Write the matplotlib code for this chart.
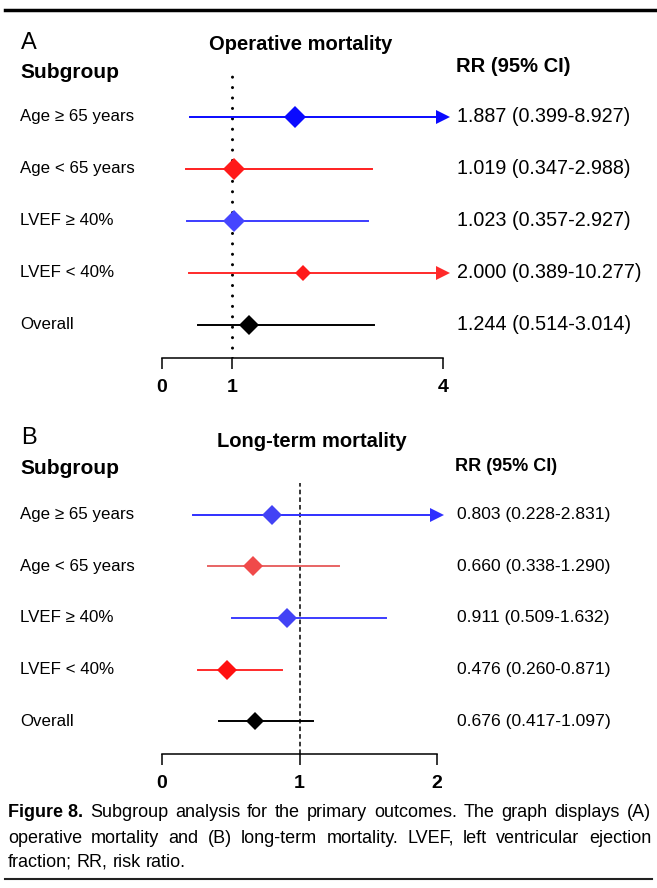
import matplotlib
matplotlib.use('Agg')
import matplotlib.pyplot as plt
from matplotlib import font_manager
from matplotlib.transforms import blended_transform_factory

# Data
subgroups = ['Age \u2265 65 years', 'Age < 65 years', 'LVEF \u2265 40%', 'LVEF < 40%', 'Overall']

op_rr = [1.887, 1.019, 1.023, 2.000, 1.244]
op_lo = [0.399, 0.347, 0.357, 0.389, 0.514]
op_hi = [8.927, 2.988, 2.927, 10.277, 3.014]

lt_rr = [0.803, 0.660, 0.911, 0.476, 0.676]
lt_lo = [0.228, 0.338, 0.509, 0.260, 0.417]
lt_hi = [2.831, 1.290, 1.632, 0.871, 1.097]

op_ticks = [0, 1, 4]
lt_ticks = [0, 1, 2]

# colors (line, diamond) per row
op_line = ['#0a0aff', '#ff2020', '#3c3cff', '#ff2a2a', '#000000']
op_mark = ['#0a0aff', '#ff1a1a', '#4646ff', '#ff1a1a', '#000000']
lt_line = ['#3030ff', '#e86464', '#3c3cff', '#ff2a2a', '#000000']
lt_mark = ['#4242f5', '#f04a4a', '#4242f5', '#ff1010', '#000000']

names = {f.name for f in font_manager.fontManager.ttflist}
base = ['Liberation Sans', 'DejaVu Sans']
narrow = ['Liberation Sans Narrow', 'Liberation Sans', 'DejaVu Sans'] if 'Liberation Sans Narrow' in names else base
plt.rcParams['font.family'] = base

W, H = 657, 888
fig = plt.figure(figsize=(W / 100, H / 100), dpi=100)


def px(x, y):
    return x / W, 1 - y / H


def forest(ax_rect, rr, lo, hi, xmax, ticks, lines, marks, ylim, ref_style, ms, val_size):
    ax = fig.add_axes(ax_rect)
    n = len(rr)
    ys = [n - i for i in range(n)]
    ax.set_xlim(0, xmax)
    ax.set_ylim(*ylim)
    if ref_style == 'dot':
        ax.axvline(1, color='black', lw=2.2, ls=(0, (0.01, 3.4)), dash_capstyle='round', zorder=1)
    else:
        ax.axvline(1, color='black', lw=1.1, ls=(0, (3, 2)), zorder=1)
    for i in range(n):
        y = ys[i]
        if hi[i] > xmax:
            ax.plot([lo[i], xmax], [y, y], color=lines[i], lw=1.4, clip_on=False, zorder=2)
            ax.plot([xmax], [y], marker='>', color=lines[i], ms=10, mew=0, clip_on=False, zorder=2)
        else:
            ax.plot([lo[i], hi[i]], [y, y], color=lines[i], lw=1.4, clip_on=False, zorder=2)
        ax.plot([rr[i]], [y], marker='D', color=marks[i], ms=ms[i], mew=0, clip_on=False, zorder=3)
    for s in ['left', 'right', 'top']:
        ax.spines[s].set_visible(False)
    ax.spines['bottom'].set_linewidth(1.1)
    ax.set_yticks([])
    ax.set_xticks(ticks)
    ax.set_xticklabels([str(t) for t in ticks], fontsize=14, fontweight='bold')
    ax.tick_params(axis='x', direction='out', length=8, width=1.1, pad=7)
    tr = blended_transform_factory(fig.transFigure, ax.transData)
    for i in range(n):
        ax.text(20 / W, ys[i], subgroups[i], transform=tr, fontsize=12.2, va='center', ha='left')
        ax.text(457 / W, ys[i], '%.3f (%.3f-%.3f)' % (rr[i], lo[i], hi[i]), transform=tr,
                fontsize=val_size, va='center', ha='left')
    return ax


# Panel A
forest([162 / W, 1 - 358 / H, 281 / W, 284 / H], op_rr, op_lo, op_hi, 4, op_ticks,
       op_line, op_mark, (0.365, 5.82), 'dot', [11, 11, 11, 8.5, 10.5], 14.2)
fig.text(*px(21, 43), 'A', fontsize=17, va='center', ha='left')
fig.text(*px(301, 44), 'Operative mortality', fontsize=14.5, fontweight='bold', va='center', ha='center')
fig.text(*px(20, 72), 'Subgroup', fontsize=15, fontweight='bold', va='center', ha='left')
fig.text(*px(456, 66), 'RR (95% CI)', fontsize=14.5, fontweight='bold', va='center', ha='left')

# Panel B
forest([162 / W, 1 - 754 / H, 275 / W, 271 / H], lt_rr, lt_lo, lt_hi, 2, lt_ticks,
       lt_line, lt_mark, (0.36, 5.62), 'dash', [10, 10, 10, 10, 9.5], 12.6)
fig.text(*px(21, 438), 'B', fontsize=17, va='center', ha='left')
fig.text(*px(312, 441), 'Long-term mortality', fontsize=14.5, fontweight='bold', va='center', ha='center')
fig.text(*px(20, 468), 'Subgroup', fontsize=15, fontweight='bold', va='center', ha='left')
fig.text(*px(455, 466), 'RR (95% CI)', fontsize=13, fontweight='bold', va='center', ha='left')

# rules
fig.add_artist(plt.Line2D([5 / W, 1], [1 - 10 / H, 1 - 10 / H], color='black', lw=2.5))
fig.add_artist(plt.Line2D([5 / W, 652 / W], [1 - 879 / H, 1 - 879 / H], color='#222222', lw=1.5))

# caption, first two lines justified to the column width
cap_lines = [
    ['Figure 8.'] + 'Subgroup analysis for the primary outcomes. The graph displays (A)'.split(' '),
    'operative mortality and (B) long-term mortality. LVEF, left ventricular ejection'.split(' '),
    'fraction; RR, risk ratio.'.split(' '),
]
cap_y = [812, 838, 862]
cap_left, cap_right = 8, 651
renderer = fig.canvas.get_renderer()
sp = fig.text(0, 0, 'a a', fontsize=13, family=narrow)
nsp = fig.text(0, 0, 'aa', fontsize=13, family=narrow)
space = sp.get_window_extent(renderer).width - nsp.get_window_extent(renderer).width
sp.remove()
nsp.remove()
for k, (words, y) in enumerate(zip(cap_lines, cap_y)):
    arts = []
    for j, w in enumerate(words):
        bold = (k == 0 and j == 0)
        arts.append(fig.text(0, 1 - y / H, w, fontsize=13, family=narrow,
                             fontweight='bold' if bold else 'normal', va='center', ha='left'))
    widths = [a.get_window_extent(renderer).width for a in arts]
    if k < 2:
        gap = (cap_right - cap_left - sum(widths)) / (len(words) - 1)
    else:
        gap = space
    x = cap_left
    for a, w in zip(arts, widths):
        a.set_x(x / W)
        x += w + gap

fig.savefig('out.png', dpi=100)
